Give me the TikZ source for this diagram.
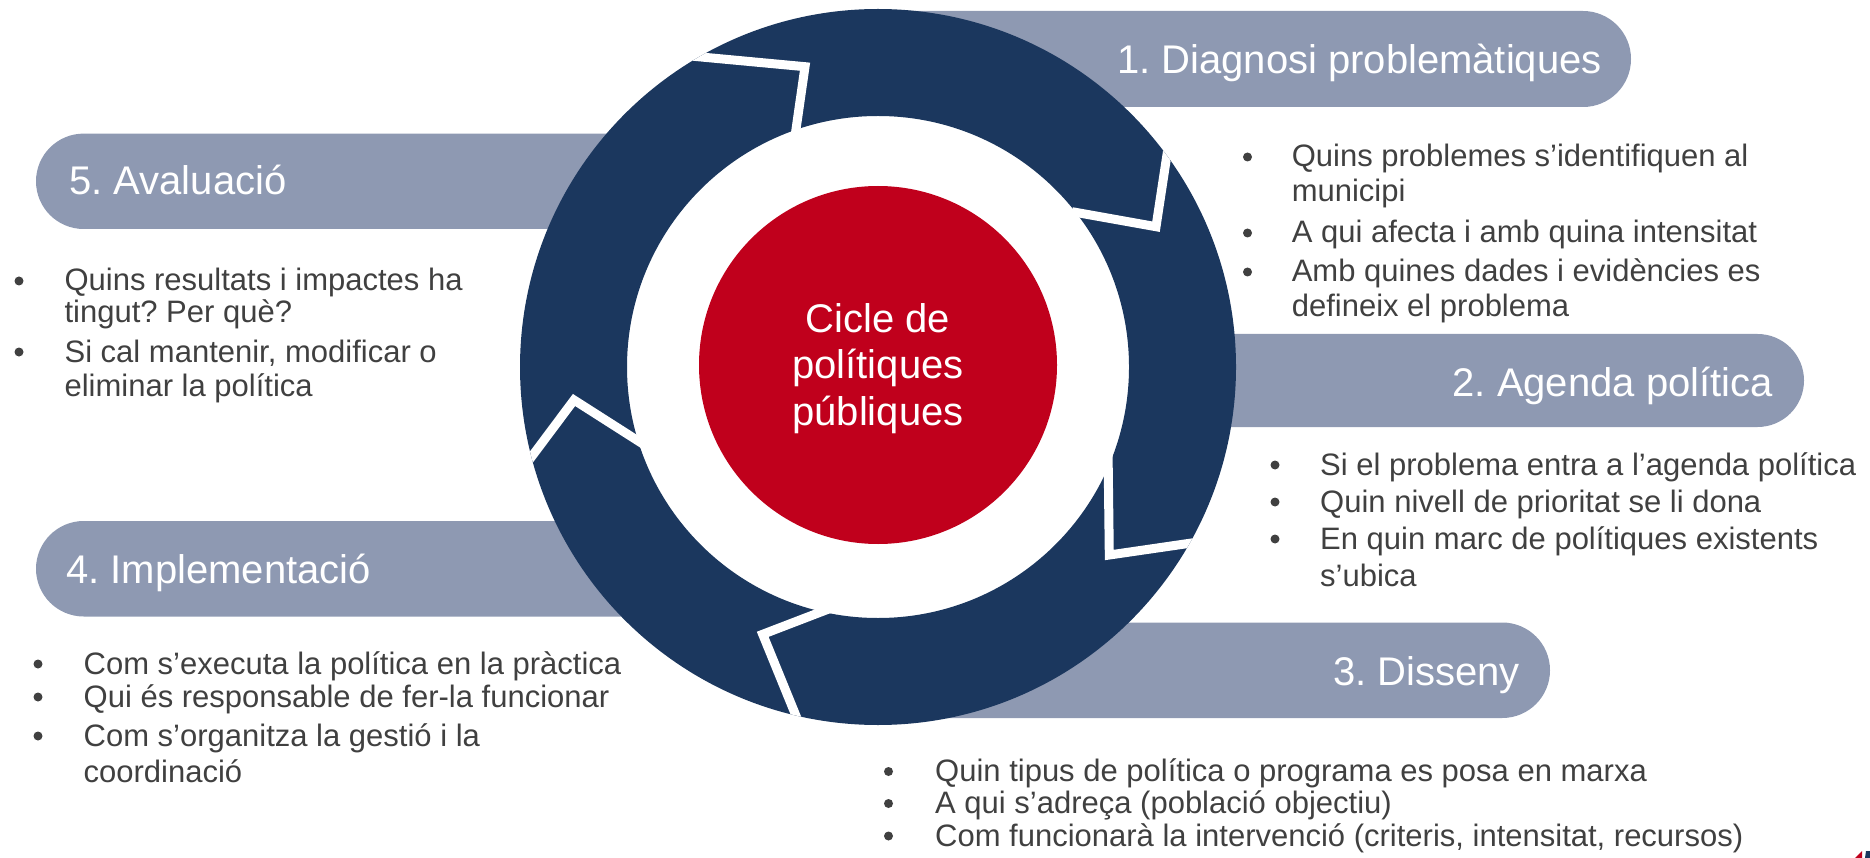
\documentclass[tikz,border=0pt]{standalone}
\usepackage{fontspec}
\setmainfont{Liberation Sans}
\usetikzlibrary{shapes.misc}
\definecolor{ringblue}{RGB}{27,55,94}
\definecolor{cyclered}{RGB}{192,0,28}
\definecolor{bannergrey}{RGB}{142,153,178}
\definecolor{textgrey}{RGB}{64,64,64}
\newcommand{\itemlines}[1]{\begin{tabular}[t]{@{}l@{}}#1\end{tabular}}
\frenchspacing
\begin{document}
\begin{tikzpicture}[x=1pt,y=-1pt,
  bannerR/.style={rounded rectangle, rounded rectangle left arc=none, fill=bannergrey, inner sep=0pt},
  bannerL/.style={rounded rectangle, rounded rectangle right arc=none, fill=bannergrey, inner sep=0pt},
  bannertext/.style={text=white, font=\fontsize{40}{46}\selectfont, inner sep=0pt},
  bullettext/.style={text=textgrey, font=\fontsize{31}{35}\selectfont, inner sep=0pt, anchor=base west},
  bulletdot/.style={circle, fill=textgrey, minimum size=9pt, inner sep=0pt},
  chevron/.style={draw=white, line width=9pt, line join=miter, miter limit=20}]
\useasboundingbox (0,0) rectangle (1870,858);

% banners
\node[bannerR, minimum width=751pt, minimum height=96pt] (b1) at (1255.5,59) {};
\node[bannerR, minimum width=624pt, minimum height=93pt] (b2) at (1492,380.5) {};
\node[bannerR, minimum width=670pt, minimum height=95.5pt] (b3) at (1215,670.25) {};
\node[bannerL, minimum width=614pt, minimum height=95.5pt] (b4) at (343,568.75) {};
\node[bannerL, minimum width=614pt, minimum height=95.4pt] (b5) at (343,181.3) {};

% ring
\fill[ringblue, even odd rule] (878,367) circle[radius=358pt] (878,367) circle[radius=251pt];
\begin{scope}
  \clip (878,367) circle[radius=358pt];
  \draw[chevron] (637,51) -- (805,66.7) -- (791.5,160.6);
  \draw[chevron] (1172,121.7) -- (1156,226.7) -- (1072,211.7);
  \draw[chevron] (1108,448.8) -- (1109.3,555) -- (1229.3,537.5);
  \draw[chevron] (837.2,605.7) -- (762.7,634.3) -- (812.7,756.8);
  \draw[chevron] (510.5,485) -- (574,400) -- (655.5,452);
\end{scope}

% centre
\node[circle, fill=cyclered, minimum size=358pt, inner sep=0pt] (core) at (878,365) {};
\node[text=white, font=\fontsize{40}{46.5}\selectfont, align=center, inner sep=0pt] (coretext) at (878,368.5)
      {Cicle de\\polítiques\\públiques};

% banner titles
\node[bannertext, anchor=base east] (t1) at (1602,74) {1. Diagnosi problemàtiques};
\node[bannertext, anchor=base east] (t2) at (1773,396) {2. Agenda política};
\node[bannertext, anchor=base east] (t3) at (1520,685) {3. Disseny};
\node[bannertext, anchor=base west] (t4) at (66,583) {4. Implementació};
\node[bannertext, anchor=base west] (t5) at (69,195) {5. Avaluació};

% block 1
\node[bullettext] (i1a) at (1291.6,167) {\itemlines{Quins problemes s’identifiquen al\\municipi}};
\node[bullettext] (i1b) at (1291.6,243) {\itemlines{A qui afecta i amb quina intensitat}};
\node[bullettext] (i1c) at (1291.6,282) {\itemlines{Amb quines dades i evidències es\\defineix el problema}};
\node[bulletdot] (d1a) at (1247.5,157) {};
\node[bulletdot] (d1b) at (1247.5,233) {};
\node[bulletdot] (d1c) at (1247.5,272) {};

% block 2
\node[bullettext] (i2a) at (1320,475) {\itemlines{Si el problema entra a l’agenda política}};
\node[bullettext] (i2b) at (1320,512) {\itemlines{Quin nivell de prioritat se li dona}};
\node[bullettext] (i2c) at (1320,549) {\itemlines{En quin marc de polítiques existents\\[2pt]s’ubica}};
\node[bulletdot] (d2a) at (1275,465) {};
\node[bulletdot] (d2b) at (1275,502) {};
\node[bulletdot] (d2c) at (1275,539) {};

% block 3
\node[bullettext] (i3a) at (935,781.5) {\itemlines{Quin tipus de política o programa es posa en marxa}};
\node[bullettext] (i3b) at (935,813.5) {\itemlines{A qui s’adreça (població objectiu)}};
\node[bullettext] (i3c) at (935,846) {\itemlines{Com funcionarà la intervenció (criteris, intensitat, recursos)}};
\node[bulletdot] (d3a) at (888.5,771.5) {};
\node[bulletdot] (d3b) at (888.5,803.5) {};
\node[bulletdot] (d3c) at (888.5,836) {};

% block 4
\node[bullettext] (i4a) at (83.5,674) {\itemlines{Com s’executa la política en la pràctica}};
\node[bullettext] (i4b) at (83.5,707) {\itemlines{Qui és responsable de fer-la funcionar}};
\node[bullettext] (i4c) at (83.5,746) {\itemlines{Com s’organitza la gestió i la\\[1pt]coordinació}};
\node[bulletdot] (d4a) at (38,664) {};
\node[bulletdot] (d4b) at (38,697) {};
\node[bulletdot] (d4c) at (38,736) {};

% block 5
\node[bullettext] (i5a) at (64.4,291) {\itemlines{Quins resultats i impactes ha\\[-3pt]tingut? Per què?}};
\node[bullettext] (i5b) at (64.4,362) {\itemlines{Si cal mantenir, modificar o\\eliminar la política}};
\node[bulletdot] (d5a) at (19,281) {};
\node[bulletdot] (d5b) at (19,352) {};

% corner fragment
\fill[cyclered] (1855,858) -- (1862,851) -- (1862,858) -- cycle;
\fill[ringblue] (1865,858) -- (1866,851) -- (1870,851) -- (1870,858) -- cycle;
\end{tikzpicture}
\end{document}
